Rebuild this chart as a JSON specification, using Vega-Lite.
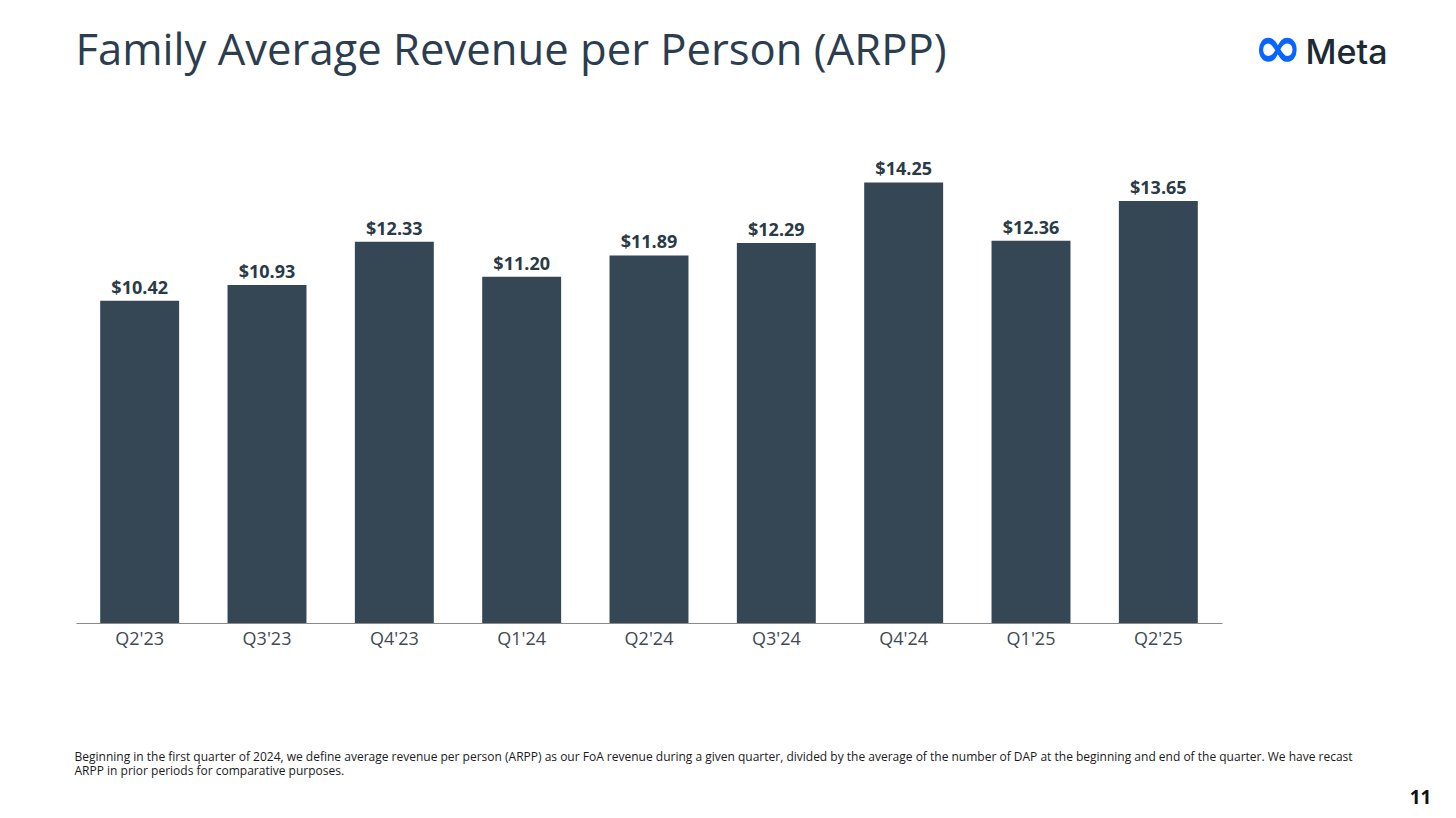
{
  "$schema": "https://vega.github.io/schema/vega-lite/v6.json",
  "autosize": {"type": "none"},
  "width": 1146,
  "height": 623,
  "padding": {"left": 76, "top": 0, "right": 234, "bottom": 195},
  "background": "#ffffff",
  "config": {"view": {"stroke": null}},
  "title": {
    "text": "∞",
    "anchor": "end",
    "frame": "group",
    "orient": "top",
    "dx": 80,
    "dy": 137,
    "offset": 0,
    "baseline": "bottom",
    "font": "DejaVu Sans",
    "fontSize": 58,
    "fontWeight": "bold",
    "color": "#0866FF"
  },
  "data": {
    "values": [
      {"quarter": "Q2'23", "arpp": 10.42},
      {"quarter": "Q3'23", "arpp": 10.93},
      {"quarter": "Q4'23", "arpp": 12.33},
      {"quarter": "Q1'24", "arpp": 11.20},
      {"quarter": "Q2'24", "arpp": 11.89},
      {"quarter": "Q3'24", "arpp": 12.29},
      {"quarter": "Q4'24", "arpp": 14.25},
      {"quarter": "Q1'25", "arpp": 12.36},
      {"quarter": "Q2'25", "arpp": 13.65}
    ]
  },
  "layer": [
    {
      "mark": {"type": "bar", "color": "#354754"},
      "encoding": {
        "x": {
          "field": "quarter",
          "type": "nominal",
          "sort": null,
          "scale": {"paddingInner": 0.38, "paddingOuter": 0.19},
          "axis": {
            "orient": "bottom",
            "title": [
              "Beginning in the first quarter of 2024, we define average revenue per person (ARPP) as our FoA revenue during a given quarter, divided by the average of the number of DAP at the beginning and end of the quarter. We have recast",
              "ARPP in prior periods for comparative purposes."
            ],
            "titleX": -2,
            "titleY": 128,
            "titleAlign": "left",
            "titleAnchor": "start",
            "titleBaseline": "top",
            "titleAngle": 0,
            "titleFont": "Open Sans",
            "titleFontSize": 12,
            "titleFontWeight": "normal",
            "titleColor": "#1a1a1a",
            "titleLineHeight": 14.5,
            "titleLimit": 1500,
            "labelFont": "Open Sans",
            "labelFontSize": 18,
            "labelColor": "#3f4a54",
            "labelPadding": 7,
            "labelAngle": 0,
            "ticks": false,
            "domainColor": "#8a8a8a",
            "domainWidth": 1,
            "grid": false
          }
        },
        "y": {
          "field": "arpp",
          "type": "quantitative",
          "scale": {"domain": [0, 20.15], "nice": false},
          "axis": {
            "orient": "left",
            "title": "Family Average Revenue per Person (ARPP)",
            "titleX": -1,
            "titleY": 64,
            "titleAngle": 0,
            "titleAlign": "left",
            "titleBaseline": "alphabetic",
            "titleFont": "Open Sans",
            "titleFontSize": 43.6,
            "titleFontWeight": "normal",
            "titleColor": "#2b3d4f",
            "titleLimit": 2000,
            "labels": false,
            "ticks": false,
            "domain": false,
            "grid": false
          }
        }
      }
    },
    {
      "mark": {"type": "text", "baseline": "alphabetic", "dy": -7, "font": "Open Sans", "fontSize": 18, "fontWeight": "bold", "color": "#2a3a47"},
      "encoding": {
        "x": {
          "field": "quarter",
          "type": "nominal",
          "sort": null,
          "scale": {"paddingInner": 0.38, "paddingOuter": 0.19},
          "axis": {
            "orient": "top",
            "title": "Meta",
            "titleX": 1229,
            "titleY": 63,
            "titleAngle": 0,
            "titleAlign": "left",
            "titleBaseline": "alphabetic",
            "titleFont": "Inter",
            "titleFontSize": 34,
            "titleFontWeight": 500,
            "titleColor": "#1c2b33",
            "titleLimit": 500,
            "labels": false,
            "ticks": false,
            "domain": false,
            "grid": false
          }
        },
        "y": {
          "field": "arpp",
          "type": "quantitative",
          "scale": {"domain": [0, 20.15], "nice": false},
          "axis": {
            "orient": "right",
            "title": "11",
            "titleX": 198,
            "titleY": 803,
            "titleAngle": 0,
            "titleAlign": "center",
            "titleBaseline": "alphabetic",
            "titleFont": "Open Sans",
            "titleFontSize": 19,
            "titleFontWeight": "bold",
            "titleColor": "#111111",
            "labels": false,
            "ticks": false,
            "domain": false,
            "grid": false
          }
        },
        "text": {"field": "arpp", "type": "quantitative", "format": "$.2f"}
      }
    }
  ],
  "resolve": {
    "scale": {"x": "independent", "y": "independent"},
    "axis": {"x": "independent", "y": "independent"}
  }
}
